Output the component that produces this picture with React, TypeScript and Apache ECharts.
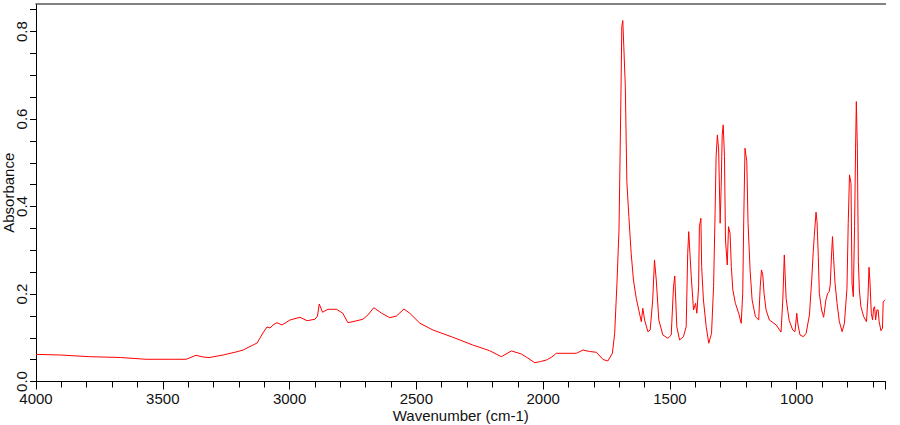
import React, { useEffect, useRef } from "react";
import * as echarts from "echarts";

// Wavenumber (cm-1) and absorbance
const wavenumbers = [
  4000, 3904, 3790, 3668, 3566, 3471, 3408, 3369, 3341, 3317,
  3262, 3211, 3183, 3160, 3128, 3105, 3089, 3077, 3065, 3050,
  3030, 2998, 2959, 2931, 2900, 2890, 2883, 2870, 2849, 2815,
  2790, 2770, 2750, 2711, 2691, 2668, 2637, 2605, 2578, 2549,
  2526, 2486, 2435, 2356, 2278, 2211, 2165, 2125, 2086, 2061,
  2033, 2010, 1987, 1966, 1948, 1869, 1843, 1817, 1790, 1764,
  1745, 1727, 1718, 1709, 1701, 1696, 1692, 1690, 1686, 1682,
  1676, 1670, 1662, 1653, 1644, 1633, 1623, 1613, 1607, 1600,
  1587, 1578, 1568, 1561, 1554, 1544, 1528, 1508, 1495, 1486,
  1481, 1473, 1462, 1447, 1436, 1430, 1426, 1416, 1407, 1399,
  1394, 1387, 1384, 1378, 1375, 1368, 1357, 1347, 1336, 1328,
  1322, 1318, 1313, 1308, 1302, 1298, 1294, 1290, 1285, 1281,
  1274, 1269, 1263, 1258, 1252, 1242, 1229, 1219, 1213, 1209,
  1204, 1197, 1192, 1184, 1176, 1163, 1150, 1144, 1139, 1134,
  1129, 1121, 1108, 1081, 1062, 1055, 1049, 1042, 1035, 1030,
  1016, 1007, 1000, 995, 987, 974, 963, 950, 941, 935,
  931, 924, 920, 915, 911, 902, 894, 885, 878, 872,
  868, 863, 859, 855, 849, 841, 832, 821, 812, 802,
  797, 792, 786, 782, 777, 772, 768, 765, 761, 757,
  753, 747, 736, 725, 719, 715, 711, 706, 701, 697,
  693, 689, 684, 679, 675, 668, 662, 659, 651,
];

const absorbance = [
  0.062, 0.0606, 0.0567, 0.0549, 0.0508, 0.0508, 0.0508, 0.0599, 0.056, 0.0547,
  0.0606, 0.0675, 0.072, 0.0789, 0.088, 0.111, 0.1246, 0.1224, 0.1292, 0.1345,
  0.1292, 0.1407, 0.1468, 0.139, 0.1423, 0.1498, 0.1772, 0.1583, 0.1651, 0.1651,
  0.156, 0.1345, 0.1368, 0.1423, 0.1521, 0.1688, 0.156, 0.1459, 0.1498, 0.1658,
  0.156, 0.1331, 0.1178, 0.1011, 0.0835, 0.0704, 0.0567, 0.0698, 0.0629, 0.0537,
  0.043, 0.0457, 0.0492, 0.056, 0.0645, 0.0645, 0.072, 0.0686, 0.0668, 0.0503,
  0.0469, 0.0645, 0.1102, 0.2246, 0.3465, 0.5409, 0.7124, 0.8114, 0.8252, 0.7657,
  0.6742, 0.457, 0.3769, 0.2932, 0.2321, 0.1903, 0.1635, 0.1368, 0.1674, 0.1407,
  0.1139, 0.1178, 0.1864, 0.2779, 0.2321, 0.1407, 0.1063, 0.0988, 0.1063, 0.2168,
  0.2413, 0.1253, 0.0949, 0.1025, 0.1253, 0.2932, 0.3426, 0.2397, 0.1635, 0.1788,
  0.156, 0.2168, 0.354, 0.3732, 0.2625, 0.1864, 0.1253, 0.0874, 0.1102, 0.2168,
  0.3847, 0.5141, 0.5638, 0.5294, 0.3618, 0.4455, 0.5638, 0.5866, 0.5141, 0.3236,
  0.2664, 0.354, 0.3389, 0.2625, 0.2093, 0.1788, 0.156, 0.1331, 0.2017, 0.3694,
  0.5333, 0.5027, 0.3618, 0.255, 0.1864, 0.1482, 0.1407, 0.2168, 0.255, 0.2436,
  0.2017, 0.1635, 0.1407, 0.1292, 0.113, 0.1864, 0.2893, 0.1903, 0.16, 0.14,
  0.1178, 0.1139, 0.156, 0.1292, 0.1063, 0.1025, 0.1102, 0.1521, 0.2321, 0.2969,
  0.3312, 0.387, 0.3655, 0.2854, 0.2017, 0.1635, 0.1468, 0.1864, 0.2017, 0.2054,
  0.2207, 0.287, 0.3312, 0.2854, 0.2246, 0.1788, 0.1368, 0.1139, 0.1331, 0.2132,
  0.3618, 0.4723, 0.4533, 0.2246, 0.1939, 0.354, 0.5333, 0.6399, 0.5333, 0.274,
  0.2093, 0.1711, 0.1482, 0.1368, 0.1939, 0.2612, 0.2246, 0.156, 0.1407, 0.1674,
  0.1711, 0.1407, 0.1635, 0.1635, 0.1368, 0.1162, 0.1217, 0.1825, 0.1864,
];

// Axis range and tick spacing (wavenumber axis runs high → low)
const wnHigh = 4000;
const wnLow = 650;
const xMajorStep = 500;
const xMinorStep = 100;
const yMax = 0.863;
const yLabelStep = 0.2;
const yTickStep = 0.05;

const FONT = "'Liberation Sans', Arial, sans-serif";
const TEXT = "#111";

export default function App() {
  const ref = useRef<HTMLDivElement>(null);

  useEffect(() => {
    if (!ref.current) return;
    const chart = echarts.init(ref.current, undefined, { renderer: "svg" });
    // x is plotted as -wavenumber so that ticks count from 4000 downward
    const data = wavenumbers.map((w, i) => [-w, absorbance[i]]);
    const baseX = {
      type: "value" as const,
      min: -wnHigh,
      max: -wnLow,
      splitLine: { show: false },
    };
    chart.setOption({
      animation: false,
      backgroundColor: "#fff",
      grid: {
        left: 36,
        right: 14.5,
        top: 4,
        bottom: 43.5,
        containLabel: false,
        outerBoundsMode: "none",
      },
      xAxis: [
        {
          ...baseX,
          interval: xMinorStep,
          position: "bottom",
          axisLine: { show: true, onZero: false, lineStyle: { color: "#000", width: 1 } },
          axisTick: { show: true, length: 6, lineStyle: { color: "#000" } },
          axisLabel: {
            margin: 9,
            fontSize: 15,
            fontFamily: FONT,
            color: TEXT,
            showMaxLabel: false,
            formatter: (v: number) => (Math.round(v) % xMajorStep === 0 ? String(-Math.round(v)) : ""),
          },
          name: "Wavenumber (cm-1)",
          nameLocation: "middle",
          nameGap: 26,
          nameMoveOverlap: false,
          nameTextStyle: { fontSize: 15, fontFamily: FONT, color: TEXT },
        },
        {
          ...baseX,
          interval: xMajorStep,
          position: "bottom",
          axisLine: { show: false, onZero: false },
          axisTick: { show: true, length: 8, lineStyle: { color: "#000" } },
          axisLabel: { show: false },
        },
        {
          ...baseX,
          position: "top",
          axisLine: { show: true, onZero: false, lineStyle: { color: "#5a5a5a", width: 1.5 } },
          axisTick: { show: false },
          axisLabel: { show: false },
        },
      ],
      yAxis: [
        {
          type: "value",
          min: 0,
          max: yMax,
          interval: yTickStep,
          splitLine: { show: false },
          axisLine: { show: true, onZero: false, lineStyle: { color: "#000", width: 1 } },
          axisTick: { show: true, length: 6, lineStyle: { color: "#000" } },
          axisLabel: {
            rotate: 90,
            margin: 7,
            fontSize: 15,
            fontFamily: FONT,
            color: TEXT,
            showMaxLabel: false,
            formatter: (v: number) => {
              const k = v / yLabelStep;
              return Math.abs(k - Math.round(k)) < 1e-6 ? v.toFixed(1) : "";
            },
          },
          name: "Absorbance",
          nameLocation: "middle",
          nameGap: 20,
          nameMoveOverlap: false,
          nameTextStyle: { fontSize: 15, fontFamily: FONT, color: TEXT },
        },
      ],
      series: [
        {
          type: "line",
          xAxisIndex: 0,
          yAxisIndex: 0,
          data,
          showSymbol: false,
          symbol: "none",
          lineStyle: { color: "#ff0000", width: 1 },
          silent: true,
        },
      ],
    });
    return () => chart.dispose();
  }, []);

  return (
    <div
      ref={ref}
      style={{ position: "fixed", left: 0, top: 0, width: 900, height: 425, background: "#fff" }}
    />
  );
}
